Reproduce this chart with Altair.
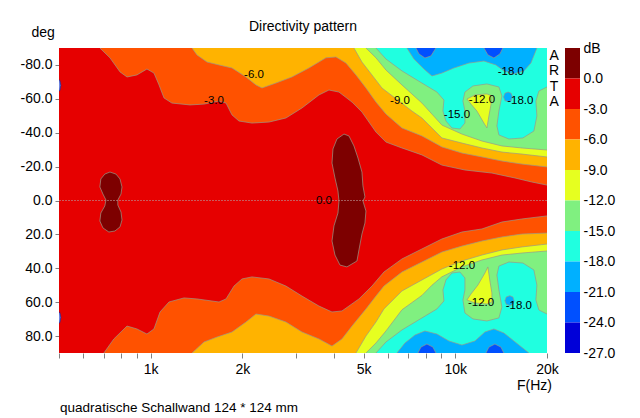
import altair as alt
import pandas as pd

FONT = "Liberation Sans"
LINE = "#9a9a88"

# ---------------- colour bar (dB bands, top to bottom) ----------------
BAND_TOP = [3, 0, -3, -6, -9, -12, -15, -18, -21, -24]
BAND_BOT = [0, -3, -6, -9, -12, -15, -18, -21, -24, -27]
BAND_COLORS = ["#7d0000", "#e60000", "#ff5200", "#ffb300", "#e6ff20",
               "#80f080", "#20ffe0", "#00b0ff", "#0050ff", "#0000d8"]
BAR_TICKS = [3, 0, -3, -6, -9, -12, -15, -18, -21, -24, -27]

# ---------------- axes ----------------
F_MIN, F_MAX = 500, 20000
F_OUT = 23000
X_TICKS = [500, 600, 700, 800, 900, 1000, 2000, 3000, 4000, 5000, 6000, 7000,
           8000, 9000, 10000, 20000]
X_LABELED = [1000, 2000, 5000, 10000, 20000]
Y_TICKS = [-80, -60, -40, -20, 0, 20, 40, 60, 80]

# ---------------- contour regions (frequency Hz, angle deg) ----------------
# region below -3 dB
R3_TOP_F = [681, 735, 793, 836, 901, 972, 1025, 1065, 1106, 1174, 1346, 1496, 1676, 1767,
            1849, 1949, 2150, 2445, 2780, 3138, 3568, 3848, 4150, 4579, 4938, 5489, 5920,
            6681, 7771, 9039, 10754, 13189, 15691, 17843, 20000]
R3_TOP_D = [-90, -84.2, -75.9, -72.9, -74.1, -77.6, -75.2, -68.2, -60.5, -57.5, -56.4, -56.9,
            -58.7, -57.5, -50.5, -46.9, -45.7, -46.3, -48.7, -54.6, -62.3, -65.2, -64.0, -58.1,
            -52.2, -40.4, -34.5, -31.0, -26.9, -20.9, -18.0, -16.2, -13.3, -10.9, -9.1]
R3_BOT_F = [702, 757, 836, 901, 972, 1025, 1073, 1148, 1286, 1419, 1676, 1767, 1877, 1994,
            2150, 2445, 2780, 3138, 3568, 3937, 4245, 4827, 5326, 5831, 6681, 7771, 9039,
            10513, 12229, 14224, 16544, 20000]
R3_BOT_D = [90, 81.7, 74.1, 75.8, 78.8, 75.8, 65.8, 59.9, 57.5, 58.1, 59.9, 58.1, 50.5, 46.3,
            45.1, 46.3, 50.5, 56.4, 62.3, 65.8, 65.2, 58.1, 50.5, 42.2, 34.5, 28.6, 22.7,
            18.6, 16.8, 12.7, 10.9, 9.1]
# region below -6 dB
R6_TOP_F = [1367, 1419, 1531, 1676, 1849, 2055, 2216, 2319, 2578, 2909, 3308, 3762, 4057,
            4375, 4719, 5089, 5489, 5920, 6681, 7771, 9039, 10513, 12229, 14224, 16544, 20000]
R6_TOP_D = [-90, -85.9, -81.7, -80.0, -78.2, -72.9, -68.2, -66.4, -69.3, -72.9, -78.2, -84.2,
            -84.7, -81.1, -74.1, -66.4, -58.1, -51.0, -42.8, -38.1, -31.6, -28.0, -25.7,
            -23.3, -21.5, -19.8]
R6_BOT_F = [1367, 1496, 1651, 1849, 2055, 2216, 2445, 2780, 3138, 3568, 3937, 4245, 4579,
            5089, 5489, 5831, 6681, 7771, 9039, 10513, 12229, 14224, 16544, 20000]
R6_BOT_D = [90, 83.5, 80.6, 77.6, 71.7, 67.0, 68.2, 71.7, 77.6, 81.7, 85.9, 81.7, 74.1, 64.0,
            56.4, 50.5, 42.2, 36.3, 30.4, 26.9, 23.9, 21.5, 19.8, 19.2]
# region below -9 dB
R9_TOP_F = [4648, 4938, 5326, 5744, 6531, 7205, 7771, 9039, 10513, 12229, 14224, 16544, 20000]
R9_TOP_D = [-90, -81.7, -74.1, -66.4, -58.7, -52.8, -48.7, -36.9, -33.9, -31.0, -28.6, -27.4, -25.7]
R9_BOT_F = [4719, 5089, 5489, 5831, 6681, 7771, 9039, 10513, 12229, 14224, 16544, 20000]
R9_BOT_D = [90, 80.0, 71.7, 64.0, 53.4, 46.9, 40.4, 35.7, 32.2, 29.2, 27.4, 25.7]
# region below -12 dB
R12_TOP_F = [5089, 5489, 5920, 6681, 7771, 8381, 9039, 10513, 12229, 14224, 16544, 20000]
R12_TOP_D = [-90, -84.2, -77.0, -68.2, -57.5, -51.0, -44.5, -39.2, -35.1, -32.2, -31.0, -29.8]
R12_BOT_F = [5089, 5489, 5920, 6681, 7771, 8381, 9039, 10513, 12229, 14224, 16544, 20000]
R12_BOT_D = [90, 84.1, 77.0, 64.5, 56.0, 50.0, 45.0, 39.2, 35.1, 32.2, 31.0, 29.8]
# region below -15 dB
R15_TOP_F = [5489, 5920, 6681, 7771, 8703, 9176, 9107, 9316, 9748, 10355, 10754, 10754, 10593,
             10754, 11424, 12699, 13904, 14224, 13904, 13695, 13904, 14995, 16669, 18114,
             18529, 18389, 18810, 20000]
R15_TOP_D = [-90, -83.5, -76.5, -69.3, -64.0, -59.3, -52.8, -46.9, -42.8, -42.2, -45.7, -52.8,
             -58.7, -64.0, -67.6, -68.8, -67.0, -61.7, -52.8, -44.0, -38.7, -36.3, -36.9,
             -41.0, -49.9, -58.7, -64.6, -67.0]
R15_BOT_F = [5489, 5920, 6681, 7771, 8703, 9176, 9107, 9316, 9748, 10355, 10754, 10754, 10593,
             10754, 11424, 12699, 13904, 14224, 13904, 13695, 13904, 14995, 16669, 18114,
             18529, 18389, 18810, 20000]
R15_BOT_D = [90, 83.5, 76.4, 69.3, 64.0, 59.3, 52.8, 46.9, 42.8, 42.2, 45.7, 52.8, 58.7, 66.4,
             69.9, 71.1, 69.3, 62.9, 52.8, 44.0, 38.7, 36.3, 36.9, 41.0, 49.9, 58.7, 64.6, 67.0]
# region below -18 dB
R18_TOP_F = [6938, 7314, 7888, 8381, 9039, 9896, 11084, 12414, 13592, 14439, 15572, 16795,
             17709, 18252, 18529]
R18_TOP_D = [-90, -83.5, -77.6, -73.5, -75.2, -78.2, -81.1, -82.3, -80.0, -76.5, -74.7, -76.5,
             -81.1, -87.0, -90]
R18_BOT_F = [6432, 6834, 7370, 7948, 8703, 9529, 10513, 11598, 12509, 13388, 14439, 15572,
             16795, 17442]
R18_BOT_D = [90, 84.1, 79.4, 77.0, 78.8, 82.9, 85.3, 82.9, 77.6, 75.8, 78.2, 82.9, 87.6, 90]
DOT_TOP_F = [14400, 14550, 14900, 15250, 15400, 15250, 14900, 14550]
DOT_TOP_D = [-61.1, -63.3, -64.0, -63.3, -61.1, -58.9, -58.3, -58.9]
DOT_BOT_F = [14550, 14700, 15100, 15450, 15600, 15450, 15100, 14700]
DOT_BOT_D = [59.1, 56.9, 56.2, 56.9, 59.1, 61.3, 62.0, 61.3]
# region below -21 dB
S1_TOP_F = [7425, 7596, 7948, 8318, 8638]
S1_TOP_D = [-90, -86.5, -84.1, -85.3, -90]
S2_TOP_F = [12414, 12795, 13388, 14010, 14331]
S2_TOP_D = [-90, -85.9, -84.1, -86.5, -90]
S1_BOT_F = [7539, 7712, 8069, 8445, 8638]
S1_BOT_D = [90, 86.5, 84.7, 86.5, 90]
S2_BOT_F = [12603, 12892, 13490, 14117, 14439]
S2_BOT_D = [90, 86.5, 84.7, 86.5, 90]
# small blue edge spots at the low-frequency border
E1_F = [480, 503, 507, 503, 480]
E1_D = [-71.5, -71.0, -68.0, -64.8, -64.5]
E2_F = [480, 503, 507, 503, 480]
E2_D = [65.5, 66.0, 69.0, 72.2, 72.7]
# islands above -12 dB
TONGUE_TOP_F = [10917, 11598, 12699, 13189, 13089, 12892, 12699, 12414, 11774, 11254]
TONGUE_TOP_D = [-59.9, -62.3, -62.9, -61.7, -56.4, -49.9, -42.8, -45.7, -52.8, -56.9]
TONGUE_BOT_F = [10917, 11598, 12699, 13189, 13189, 12990, 12795, 12509, 11864, 11254]
TONGUE_BOT_D = [58.7, 60.5, 61.1, 59.9, 54.6, 47.5, 39.2, 42.8, 49.9, 55.2]
# islands above 0 dB
BLOB1_F = [735, 769, 793, 805, 799, 780, 780, 799, 805, 793, 763, 729, 697, 681, 686, 707,
           713, 697, 681, 686, 707]
BLOB1_D = [-16.8, -15.6, -12.7, -8.0, -3.8, -0.3, 2.7, 6.8, 11.5, 15.6, 18.0, 18.6, 16.2,
           12.1, 7.4, 3.2, -0.3, -3.8, -8.0, -12.7, -15.6]
BLOB2_F = [4310, 4476, 4648, 4791, 4938, 4975, 5051, 4975, 5089, 5051, 4938, 4827, 4755, 4408,
           4182, 4027, 3937, 3996, 4119, 4150, 4119, 4027, 3937, 3966, 4088]
BLOB2_D = [-39.2, -38.1, -32.2, -25.1, -16.8, -8.6, -2.1, 0.3, 6.2, 13.3, 19.8, 29.2, 35.7,
           39.2, 38.1, 32.2, 23.9, 15.0, 7.4, 0.3, -5.6, -13.3, -22.1, -30.4, -36.3]

# contour labels
LABEL_TEXT = ["-6.0", "-3.0", "-9.0", "-12.0", "-18.0", "-18.0", "-15.0", "0.0",
              "-12.0", "-12.0", "-18.0"]
LABEL_F = [2183, 1614, 6581, 12229, 15224, 16350, 10123, 3705, 10513, 12150, 16172]
LABEL_D = [-74.1, -58.7, -58.7, -59.3, -75.8, -58.7, -50.5, 0, 38.6, 60.5, 62.3]

# program mark, just right of the plot
MARK_TEXT = "A\nR\nT\nA"
MARK_F = 21100
MARK_D = -89.5

# ---------------- build ----------------
XS = alt.Scale(type="log", domain=[F_MIN, F_MAX], nice=False)
YS = alt.Scale(domain=[-90, 90], reverse=True, nice=False, zero=False)


def closed(fs, ds, side):
    pts = list(zip(fs, ds))
    if side in ("top", "bottom"):
        edge = -100 if side == "top" else 100
        lf, ld = pts[-1]
        if abs(ld) < 90:
            pts.append((F_OUT, ld))
            pts.append((F_OUT, edge))
        else:
            pts.append((lf, edge))
        pts.append((pts[0][0], edge))
    pts.append(pts[0])
    return pts


def poly_layer(polys, color, stroke=LINE):
    rows = []
    for pid, (fs, ds, side) in enumerate(polys):
        for i, (f, d) in enumerate(closed(fs, ds, side)):
            rows.append({"pid": pid, "i": i, "f": f, "d": d})
    return alt.Chart(pd.DataFrame(rows)).mark_line(
        fill=color, stroke=stroke, strokeWidth=0.7, clip=True, interpolate="linear"
    ).encode(
        x=alt.X("f:Q", scale=XS, axis=None),
        y=alt.Y("d:Q", scale=YS, axis=None),
        detail="pid:N",
        order="i:Q",
    )


x_axis = alt.Axis(
    values=X_TICKS,
    labelExpr="indexof(%s, datum.value) >= 0 ? (datum.value / 1000) + 'k' : ''" % str(X_LABELED),
    title="F(Hz)", titleX=475, titleY=36, titleAlign="center", titleBaseline="alphabetic",
    titleFontSize=14, titleFontWeight="normal",
    tickSize=5, tickColor="#808080", domain=False, grid=False,
    labelFontSize=14, labelPadding=4, labelFlush=False, labelOverlap=False, labelBound=False,
)
y_axis = alt.Axis(
    values=Y_TICKS,
    labelExpr="(datum.value < 0 ? '-' : '') + format(abs(datum.value), '.1f')",
    title="deg", titleAngle=0, titleX=-28, titleY=-12, titleAlign="left",
    titleBaseline="alphabetic", titleFontSize=14, titleFontWeight="normal",
    tickSize=4, tickColor="#808080", domain=False, grid=False,
    labelFontSize=14, labelPadding=3, labelFlush=False, labelOverlap=False,
)

bg = alt.Chart(pd.DataFrame({"f0": [F_MIN], "f1": [F_MAX], "d0": [-90], "d1": [90]})).mark_rect(
    fill=BAND_COLORS[1]
).encode(
    x=alt.X("f0:Q", scale=XS, axis=x_axis), x2="f1",
    y=alt.Y("d0:Q", scale=YS, axis=y_axis), y2="d1",
)

layers = [
    bg,
    poly_layer([(R3_TOP_F, R3_TOP_D, "top"), (R3_BOT_F, R3_BOT_D, "bottom")], BAND_COLORS[2]),
    poly_layer([(R6_TOP_F, R6_TOP_D, "top"), (R6_BOT_F, R6_BOT_D, "bottom")], BAND_COLORS[3]),
    poly_layer([(R9_TOP_F, R9_TOP_D, "top"), (R9_BOT_F, R9_BOT_D, "bottom")], BAND_COLORS[4]),
    poly_layer([(R12_TOP_F, R12_TOP_D, "top"), (R12_BOT_F, R12_BOT_D, "bottom")], BAND_COLORS[5]),
    poly_layer([(R15_TOP_F, R15_TOP_D, "top"), (R15_BOT_F, R15_BOT_D, "bottom")], BAND_COLORS[6]),
    poly_layer([(R18_TOP_F, R18_TOP_D, "top"), (R18_BOT_F, R18_BOT_D, "bottom"),
                (DOT_TOP_F, DOT_TOP_D, "island"), (DOT_BOT_F, DOT_BOT_D, "island")], BAND_COLORS[7]),
    poly_layer([(S1_TOP_F, S1_TOP_D, "top"), (S2_TOP_F, S2_TOP_D, "top"),
                (S1_BOT_F, S1_BOT_D, "bottom"), (S2_BOT_F, S2_BOT_D, "bottom")], BAND_COLORS[8]),
    poly_layer([(E1_F, E1_D, "island"), (E2_F, E2_D, "island")], "#6f86e0", stroke="#1a2aa0"),
    poly_layer([(TONGUE_TOP_F, TONGUE_TOP_D, "island"),
                (TONGUE_BOT_F, TONGUE_BOT_D, "island")], BAND_COLORS[4]),
    poly_layer([(BLOB1_F, BLOB1_D, "island"), (BLOB2_F, BLOB2_D, "island")], BAND_COLORS[0]),
]

zero = alt.Chart(pd.DataFrame({"d": [0]})).mark_rule(
    color="#b89090", strokeWidth=0.8, strokeDash=[2, 1], opacity=0.8
).encode(y=alt.Y("d:Q", scale=YS, axis=None))

labels = alt.Chart(pd.DataFrame({"t": LABEL_TEXT, "f": LABEL_F, "d": LABEL_D})).mark_text(
    fontSize=11.5, color="black", align="center", baseline="middle"
).encode(
    x=alt.X("f:Q", scale=XS, axis=None),
    y=alt.Y("d:Q", scale=YS, axis=None),
    text="t:N",
)

mark = alt.Chart(pd.DataFrame({"t": [MARK_TEXT], "f": [MARK_F], "d": [MARK_D]})).mark_text(
    fontSize=14, color="black", align="center", baseline="top", lineBreak="\n", lineHeight=15.5
).encode(
    x=alt.X("f:Q", scale=XS, axis=None),
    y=alt.Y("d:Q", scale=YS, axis=None),
    text="t:N",
)

main = alt.layer(*layers, zero, labels, mark).resolve_axis(
    x="independent", y="independent"
).properties(
    width=488, height=305,
    title=alt.TitleParams("Directivity pattern", anchor="middle", fontSize=14,
                          fontWeight="normal", baseline="bottom", offset=-23),
)

cb_df = pd.DataFrame({"top": BAND_TOP, "bot": BAND_BOT, "color": BAND_COLORS, "x0": 0, "x1": 1})
cbar = alt.Chart(cb_df).mark_rect().encode(
    x=alt.X("x0:Q", scale=alt.Scale(domain=[0, 1]), axis=None), x2="x1",
    y=alt.Y("top:Q", scale=alt.Scale(domain=[-27, 3], nice=False, zero=False),
            axis=alt.Axis(orient="right", values=BAR_TICKS,
                          labelExpr="datum.value == 3 ? 'dB' : (datum.value < 0 ? '-' : '\u2002') + format(abs(datum.value), '.1f')",
                          ticks=False, domain=False, grid=False, title=None, labelPadding=3,
                          labelFontSize=14, labelFlush=False, labelOverlap=False, labelAlign="left")),
    y2="bot",
    fill=alt.Fill("color:N", scale=None),
).properties(width=15, height=305)

chart = alt.hconcat(main, cbar, spacing=18, bounds="flush").properties(
    padding={"left": 12, "top": 12, "right": 5, "bottom": 5},
    title=alt.TitleParams("quadratische Schallwand 124 * 124 mm", orient="bottom", anchor="start",
                          fontSize=13.5, fontWeight="normal", dx=40, offset=9),
).configure_view(stroke=None).configure_axis(
    labelFont=FONT, titleFont=FONT, labelColor="black", titleColor="black"
).configure_title(font=FONT, color="black").configure_text(font=FONT)

chart.save("out.html", embed_options={"renderer": "svg", "actions": False})
